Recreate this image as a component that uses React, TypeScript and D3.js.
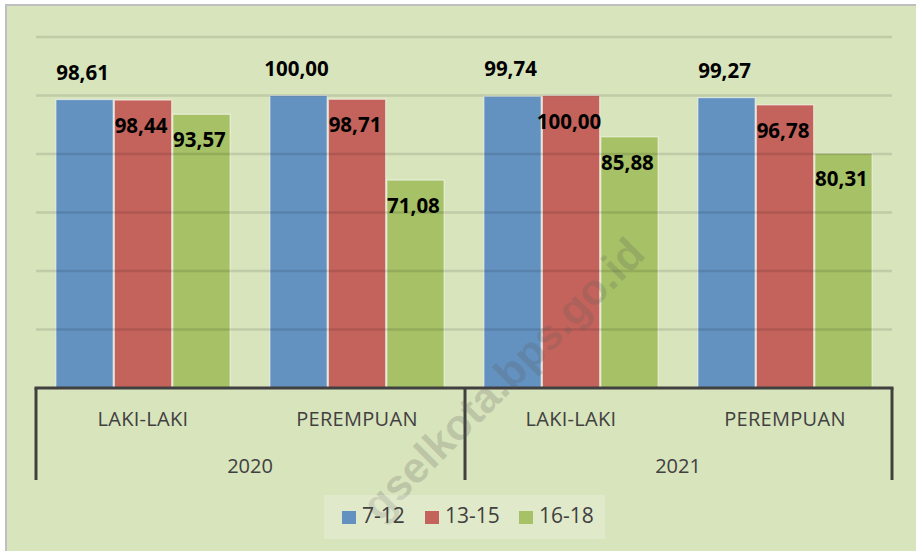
import React from "react";
import * as d3 from "d3";

const years = ["2020", "2021"];
const genders = ["LAKI-LAKI", "PEREMPUAN"];
const seriesNames = ["7-12", "13-15", "16-18"];
const seriesColors = ["#6391c0", "#c4635c", "#a6c166"];
// values per group: 2020 L, 2020 P, 2021 L, 2021 P
const values712 = [98.61, 100.0, 99.74, 99.27];
const values1315 = [98.44, 98.71, 100.0, 96.78];
const values1618 = [93.57, 71.08, 85.88, 80.31];
const yTicks = [20, 40, 60, 80, 100, 120];

const W = 916;
const H = 551;
const plotLeft = 36;
const plotRight = 892;
const plotTop = 37;
const plotBottom = 388;

export default function App() {
  const series = [values712, values1315, values1618];
  const groups = years.flatMap((y) => genders.map((g) => `${y}|${g}`));
  const x0 = d3.scaleBand<string>().domain(groups).range([plotLeft, plotRight]).padding(0);
  const x1 = d3
    .scaleBand<string>()
    .domain(seriesNames)
    .range([0, x0.bandwidth()])
    .paddingInner(0)
    .paddingOuter(0.33);
  const y = d3.scaleLinear().domain([0, 120]).range([plotBottom, plotTop]);
  const fmt = (v: number) => v.toFixed(2).replace(".", ",");
  const yearScale = d3.scaleBand<string>().domain(years).range([plotLeft, plotRight]);

  const legendX = 324;
  const legendY = 495;
  const legendItems = [342, 425, 519];

  return (
    <svg
      width={W}
      height={H}
      style={{ position: "absolute", left: 0, top: 0, display: "block" }}
      fontFamily="'Open Sans', sans-serif"
    >
      <rect x={0} y={0} width={W} height={H} fill="#ffffff" />
      <rect x={6} y={5} width={W + 10} height={H + 10} fill="#d8e4bc" stroke="#bfbfbf" strokeWidth={2} />

      {/* bars */}
      {groups.map((g, gi) => (
        <g key={g} transform={`translate(${x0(g)},0)`}>
          {series.map((vals, si) => (
            <rect
              key={si}
              x={x1(seriesNames[si])! + 0.6}
              y={y(vals[gi])}
              width={x1.bandwidth() - 1.2}
              height={plotBottom - y(vals[gi])}
              fill={seriesColors[si]}
              stroke="rgba(255,255,255,0.55)"
              strokeWidth={1.2}
            />
          ))}
        </g>
      ))}

      {/* gridlines */}
      {yTicks.map((t) => (
        <line
          key={t}
          x1={plotLeft}
          x2={plotRight}
          y1={y(t)}
          y2={y(t)}
          stroke="rgba(0,0,0,0.11)"
          strokeWidth={2.5}
        />
      ))}

      {/* data labels */}
      {groups.map((g, gi) =>
        series.map((vals, si) => {
          const cx = x0(g)! + x1(seriesNames[si])! + x1.bandwidth() / 2 - 2;
          const ty = si === 0 ? y(vals[gi]) - 20 : y(vals[gi]) + 33;
          return (
            <text
              key={`${g}-${si}`}
              x={cx}
              y={ty}
              textAnchor="middle"
              fontSize={20.5}
              fontWeight={700}
              fill="#000000"
            >
              {fmt(vals[gi])}
            </text>
          );
        })
      )}

      {/* axis */}
      <line x1={plotLeft - 1.5} x2={plotRight + 1.5} y1={plotBottom} y2={plotBottom} stroke="#404040" strokeWidth={3} />
      {[plotLeft, (plotLeft + plotRight) / 2 + 1, plotRight].map((xx, i) => (
        <line key={i} x1={xx} x2={xx} y1={plotBottom} y2={480} stroke="#404040" strokeWidth={3} />
      ))}

      {/* category labels */}
      {groups.map((g) => (
        <text
          key={g}
          x={x0(g)! + x0.bandwidth() / 2}
          y={426}
          textAnchor="middle"
          fontSize={20}
          letterSpacing={0.3}
          fill="#404040"
        >
          {g.split("|")[1]}
        </text>
      ))}
      {years.map((yr) => (
        <text
          key={yr}
          x={yearScale(yr)! + yearScale.bandwidth() / 2}
          y={473}
          textAnchor="middle"
          fontSize={20}
          fill="#404040"
        >
          {yr}
        </text>
      ))}

      {/* watermark */}
      <text
        transform="translate(647,256) rotate(-45)"
        textAnchor="end"
        fontFamily="'Liberation Sans', Arial, sans-serif"
        fontWeight={700}
        fontSize={43}
        fill="#5a5a5a"
        fillOpacity={0.22}
      >
        gselkota.bps.go.id
      </text>

      {/* legend */}
      <rect x={legendX} y={legendY} width={281} height={44} fill="rgba(255,255,255,0.22)" />
      {seriesNames.map((s, i) => (
        <g key={s}>
          <rect x={legendItems[i]} y={511} width={14} height={13} fill={seriesColors[i]} />
          <text x={legendItems[i] + 20} y={523} fontSize={21} fill="#404040">
            {s}
          </text>
        </g>
      ))}
    </svg>
  );
}
